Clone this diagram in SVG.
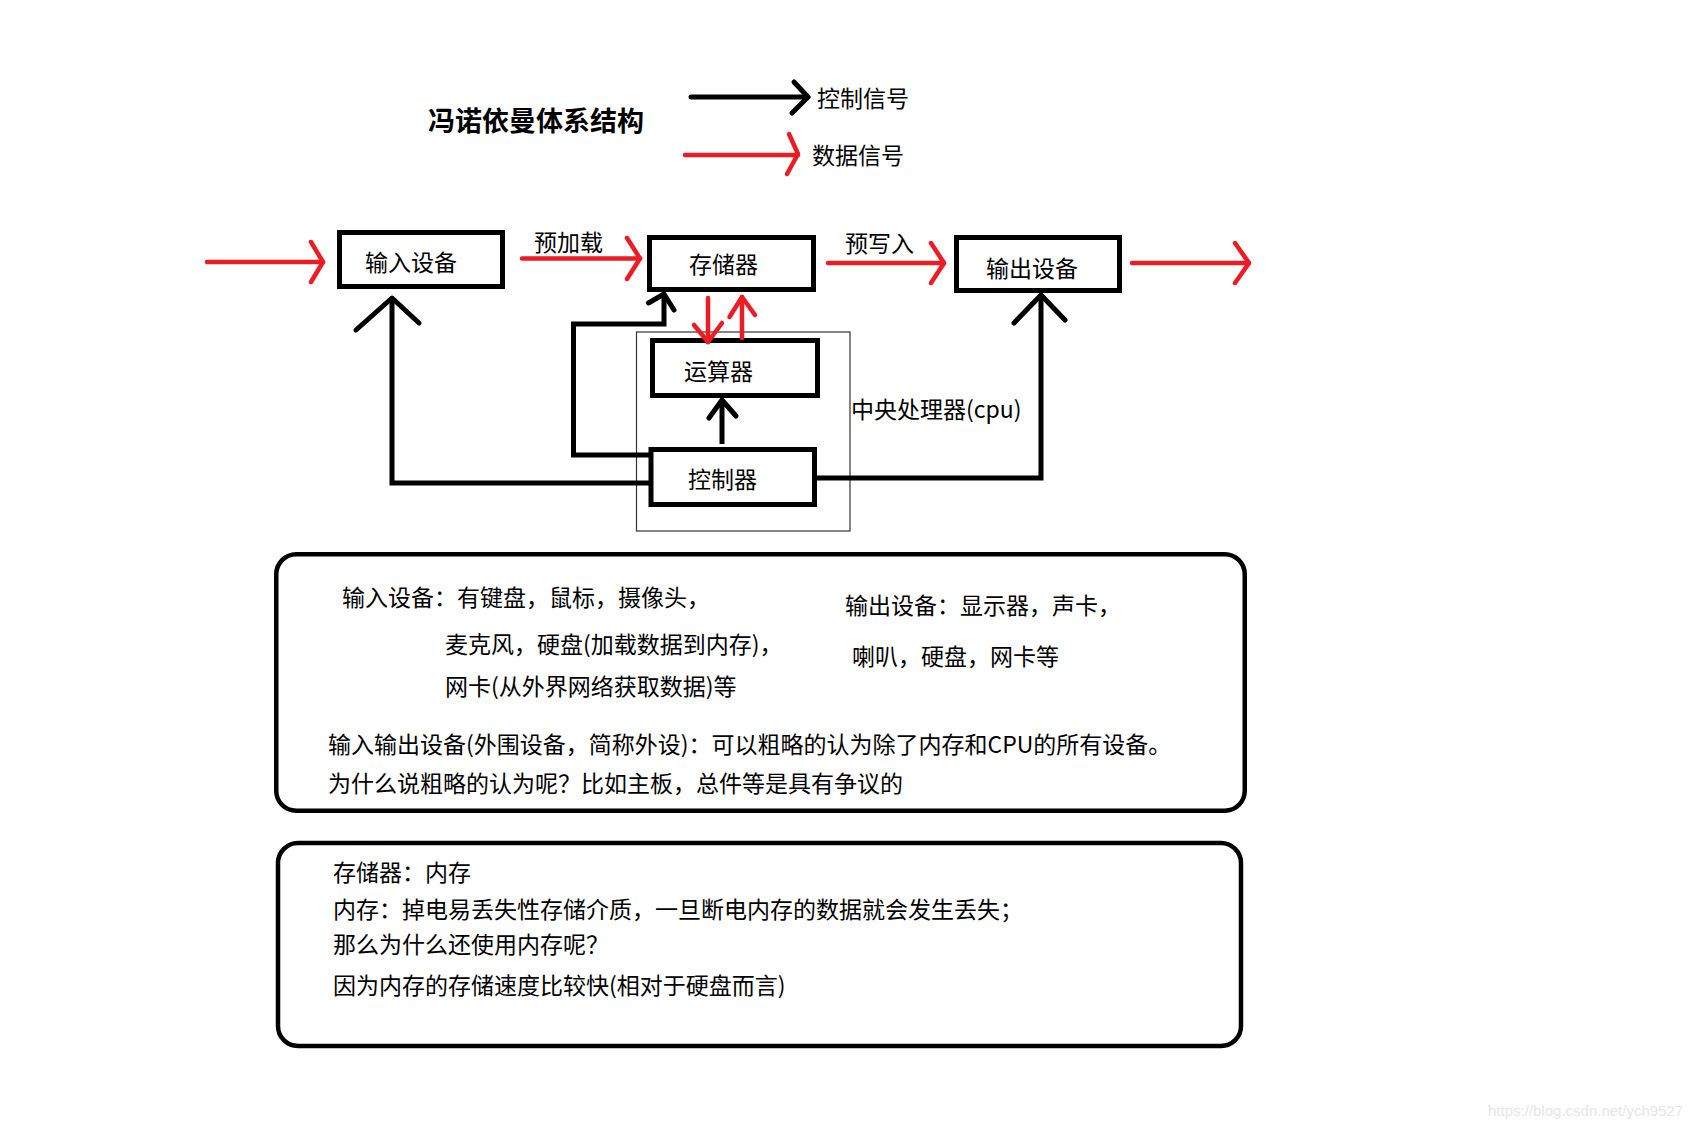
<svg xmlns="http://www.w3.org/2000/svg" width="1703" height="1129" viewBox="0 0 1703 1129">
<style>
.box{fill:#fff;stroke:#000;stroke-width:5}
.cpu{fill:none;stroke:#333;stroke-width:1.2}
.info{fill:#fff;stroke:#000;stroke-width:4.5}
.t{font-family:"Noto Sans CJK SC","Microsoft YaHei",sans-serif;font-size:23px;fill:#000}
.s{font-size:23px}
.title{font-size:27px;font-weight:bold}
.red{fill:none;stroke:#ed1c24;stroke-width:4.5;stroke-linecap:round;stroke-linejoin:round}
.blk{fill:none;stroke:#000;stroke-width:5;stroke-linejoin:miter}
.bh{fill:none;stroke:#000;stroke-width:5;stroke-linecap:round;stroke-linejoin:round}
.wm{font-family:"Liberation Sans",Arial,sans-serif;font-size:15px;fill:#e6e6e6}
</style>
<rect width="1703" height="1129" fill="#fff"/>
<g id="title"><text class="t title" x="428" y="131">冯诺依曼体系结构</text></g>
<g id="legend">
<line class="bh" x1="691" y1="97" x2="808" y2="97"/>
<polyline class="bh" points="794,82 808,97 792,113"/>
<text class="t" x="817" y="107">控制信号</text>
<line class="red" x1="685" y1="155" x2="798" y2="155"/>
<polyline class="red" points="789,134 798,154 787,174"/>
<text class="t" x="812" y="164">数据信号</text>
</g>
<g id="cpu"><rect class="cpu" x="636.5" y="332" width="213.5" height="199"/><text class="t" x="851" y="418">中央处理器(cpu)</text></g>
<g id="input"><rect class="box" x="339.5" y="232.5" width="163" height="54"/><text class="t" x="365" y="271">输入设备</text></g>
<g id="storage"><rect class="box" x="649.5" y="237.5" width="164" height="52"/><text class="t" x="689" y="273">存储器</text></g>
<g id="output"><rect class="box" x="956.5" y="237.5" width="163" height="53"/><text class="t" x="986" y="277">输出设备</text></g>
<g id="alu"><rect class="box" x="652.5" y="340.5" width="165" height="55"/><text class="t" x="684" y="380">运算器</text></g>
<g id="controller"><rect class="box" x="651" y="449.5" width="163.5" height="55"/><text class="t" x="688" y="488">控制器</text></g>
<g id="connectors">
<line class="red" x1="207" y1="262" x2="323" y2="262"/>
<polyline class="red" points="311,242 323,262 311,282"/>
<line class="red" x1="522" y1="258.5" x2="640" y2="258.5"/>
<polyline class="red" points="627,238 640,258.5 627,279"/>
<text class="t" x="534" y="251">预加载</text>
<line class="red" x1="828" y1="263" x2="944" y2="263"/>
<polyline class="red" points="931,243 944,263 931,283"/>
<text class="t" x="845" y="252">预写入</text>
<line class="red" x1="1132" y1="263" x2="1249" y2="263"/>
<polyline class="red" points="1235,243 1249,263 1235,283"/>
<line class="red" x1="708" y1="298" x2="708" y2="342"/>
<polyline class="red" points="694,325 708,342 722,323"/>
<line class="red" x1="742" y1="338" x2="742" y2="297"/>
<polyline class="red" points="729.5,317 742,297 755,315"/>
<polyline class="blk" points="649,483 392,483 392,299"/>
<polyline class="bh" points="356,330 392,298 419,323"/>
<polyline class="blk" points="649,455 573.5,455 573.5,324 664,324 664,295"/>
<polyline class="bh" points="648.5,303 664,294 674,310"/>
<line class="blk" x1="722" y1="444" x2="722" y2="401"/>
<polyline class="bh" points="709,418 722,400 736,416"/>
<polyline class="blk" points="814,478 1041,478 1041,296"/>
<polyline class="bh" points="1014,323 1041,295 1065,320"/>
</g>
<g id="info1">
<rect class="info" x="276.25" y="554.25" width="968.5" height="256.5" rx="20"/>
<text class="t s" x="342" y="606">输入设备：有键盘，鼠标，摄像头，</text>
<text class="t s" x="445" y="653">麦克风，硬盘(加载数据到内存)，</text>
<text class="t s" x="445" y="695">网卡(从外界网络获取数据)等</text>
<text class="t s" x="845" y="614">输出设备：显示器，声卡，</text>
<text class="t s" x="852" y="665">喇叭，硬盘，网卡等</text>
<text class="t s" x="328" y="753">输入输出设备(外围设备，简称外设)：可以粗略的认为除了内存和CPU的所有设备。</text>
<text class="t s" x="328" y="792">为什么说粗略的认为呢？比如主板，总件等是具有争议的</text>
</g>
<g id="info2">
<rect class="info" x="278" y="843" width="963" height="203" rx="20"/>
<text class="t s" x="333" y="881">存储器：内存</text>
<text class="t s" x="333" y="918">内存：掉电易丢失性存储介质，一旦断电内存的数据就会发生丢失；</text>
<text class="t s" x="333" y="953">那么为什么还使用内存呢？</text>
<text class="t s" x="333" y="994">因为内存的存储速度比较快(相对于硬盘而言)</text>
</g>
<text class="wm" x="1488" y="1116">https://blog.csdn.net/ych9527</text>
</svg>
